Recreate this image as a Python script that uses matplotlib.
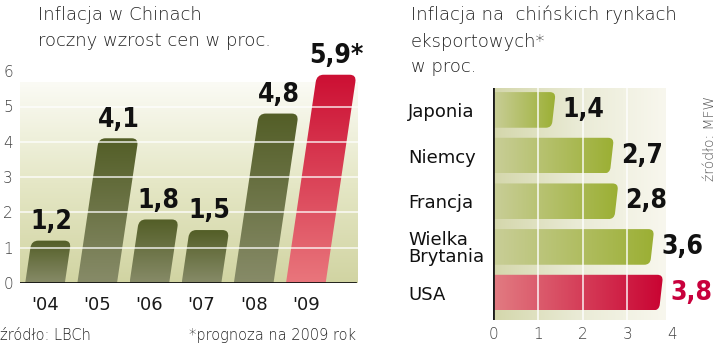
import numpy as np
import matplotlib
matplotlib.use('Agg')
import matplotlib.pyplot as plt
from matplotlib.path import Path
from matplotlib.patches import PathPatch
from matplotlib.colors import LinearSegmentedColormap

# ---------------- data ----------------
years = ["'04", "'05", "'06", "'07", "'08", "'09"]
cn_values = [1.2, 4.1, 1.8, 1.5, 4.8, 5.9]
cn_labels = ["1,2", "4,1", "1,8", "1,5", "4,8", "5,9*"]
cn_forecast = [False, False, False, False, False, True]
cn_yticks = [0, 1, 2, 3, 4, 5, 6]

countries = ["Japonia", "Niemcy", "Francja", "Wielka\nBrytania", "USA"]
ex_values = [1.4, 2.7, 2.8, 3.6, 3.8]
ex_labels = ["1,4", "2,7", "2,8", "3,6", "3,8"]
ex_highlight = [False, False, False, False, True]
ex_xticks = [0, 1, 2, 3, 4]

# ---------------- style ----------------
W, H = 720, 345
LIGHT = ['DejaVu Sans']
BOLDC = ['DejaVu Sans']

fig = plt.figure(figsize=(7.2, 3.45), dpi=100)
fig.patch.set_facecolor('white')


def fx(px):
    return px / W


def fy(py):
    return 1 - py / H


def gradient(ax, patch, extent, colors, vertical, z):
    cmap = LinearSegmentedColormap.from_list('g', colors)
    if vertical:
        arr = np.linspace(0, 1, 256).reshape(-1, 1)
    else:
        arr = np.linspace(0, 1, 256).reshape(1, -1)
    im = ax.imshow(arr, cmap=cmap, extent=extent, origin='upper',
                   aspect='auto', zorder=z, interpolation='bilinear')
    if patch is not None:
        im.set_clip_path(patch)
    return im


lkw = dict(fontsize=19, fontweight='heavy', family=BOLDC, fontstretch='condensed')

# ================= left chart =================
ax1 = fig.add_axes([fx(20), fy(283), fx(338), 6.6 * 35.3 / H])
xl1 = (-0.48, 6.0)
yl1 = (0, 6.6)

gradient(ax1, None, (xl1[0], xl1[1], 0, 5.67),
         ['#fbfbf5', '#e5e7c6', '#d1d4a2'], True, 0)

w = 0.38
s = 0.10
rx, ry = 0.13, 0.2
for i, (v, lab, fc) in enumerate(zip(cn_values, cn_labels, cn_forecast)):
    verts = [(i - w, 0), (i + w, 0),
             (i + w + s * (v - ry), v - ry), (i + w + s * v, v), (i + w + s * v - rx, v),
             (i - w + s * v + rx, v), (i - w + s * v, v), (i - w + s * (v - ry), v - ry),
             (i - w, 0)]
    codes = [Path.MOVETO, Path.LINETO, Path.LINETO, Path.CURVE3, Path.CURVE3,
             Path.LINETO, Path.CURVE3, Path.CURVE3, Path.CLOSEPOLY]
    patch = PathPatch(Path(verts, codes), facecolor='none', edgecolor='none')
    ax1.add_patch(patch)
    cols = ['#cc0f33', '#e9767c'] if fc else ['#535e27', '#878b68']
    gradient(ax1, patch, (i - w, i + w + s * v, 0, v), cols, True, 2)
    ax1.annotate(lab, (i + s * v, v), xytext=(0, 4), textcoords='offset points',
                 ha='center', va='bottom', color='#111111', zorder=5, **lkw)

for y in cn_yticks[1:-1]:
    ax1.axhline(y, color='white', lw=1.2, alpha=0.8, zorder=3)
ax1.axhline(0, xmin=0, xmax=0.99, color='#111111', lw=2, zorder=4)

ax1.set_xlim(*xl1)
ax1.set_ylim(*yl1)
ax1.set_xticks(range(len(years)))
ax1.set_xticklabels(years, fontsize=13, color='#1a1a1a', family=LIGHT)
ax1.set_yticks(cn_yticks)
ax1.set_yticklabels([str(t) for t in cn_yticks], fontsize=11, color='#444444',
                    family=LIGHT, fontweight='light')
ax1.tick_params(axis='x', length=0, pad=9)
ax1.tick_params(axis='y', length=0, pad=5)
for sp in ax1.spines.values():
    sp.set_visible(False)
ax1.set_facecolor('none')

# ================= right chart =================
ax2 = fig.add_axes([fx(493), fy(320), fx(197), 232 / H])
xl2 = (0, 4.4)
yl2 = (4.6, -0.48)

gradient(ax2, None, (0, 3.85, yl2[0], yl2[1]),
         ['#d4d7ab', '#eaebd6', '#f8f7ee'], False, 0)

h = 0.39
d = 0.09
rx2, ry2 = 0.13, 0.13
for j, (v, lab, hl) in enumerate(zip(ex_values, ex_labels, ex_highlight)):
    top, bot = j - h, j + h
    k = d * ry2 / (2 * h)
    verts = [(0, top), (v - rx2, top), (v, top), (v - k, top + ry2),
             (v - d + k, bot - ry2), (v - d, bot), (v - d - rx2, bot),
             (0, bot), (0, top)]
    codes = [Path.MOVETO, Path.LINETO, Path.CURVE3, Path.CURVE3,
             Path.LINETO, Path.CURVE3, Path.CURVE3, Path.LINETO, Path.CLOSEPOLY]
    patch = PathPatch(Path(verts, codes), facecolor='none', edgecolor='none')
    ax2.add_patch(patch)
    cols = ['#e27c82', '#c90332'] if hl else ['#c9ce98', '#9baf33']
    gradient(ax2, patch, (0, v, bot, top), cols, False, 2)
    ax2.annotate(lab, (v, j), xytext=(5, 0), textcoords='offset points',
                 ha='left', va='center', zorder=5,
                 color='#c8003c' if hl else '#111111', **lkw)

for x in ex_xticks[1:-1]:
    ax2.axvline(x, color='white', lw=1.2, alpha=0.85, zorder=3)
ax2.axvline(0, color='#1a1a1a', lw=2, zorder=4)

ax2.set_xlim(*xl2)
ax2.set_ylim(*yl2)
ax2.set_xticks(ex_xticks)
ax2.set_xticklabels([str(t) for t in ex_xticks], fontsize=11, color='#444444',
                    family=LIGHT, fontweight='light')
ax2.set_yticks(range(len(countries)))
ax2.set_yticklabels(countries, fontsize=13, color='#111111', family=LIGHT,
                    linespacing=0.95)
for t in ax2.get_yticklabels():
    t.set_horizontalalignment('left')
ax2.tick_params(axis='y', length=0, pad=(493 - 408) * 0.72)
ax2.tick_params(axis='x', length=0, pad=5)
for sp in ax2.spines.values():
    sp.set_visible(False)
ax2.set_facecolor('none')

# ================= texts =================
tkw = dict(fontsize=13, color='#222222', family=LIGHT, fontweight='light', va='baseline')
fig.text(fx(38), fy(20), 'Inflacja w Chinach', **tkw)
fig.text(fx(38), fy(46), 'roczny wzrost cen w proc.', **tkw)
fig.text(fx(411), fy(20), 'Inflacja na  chińskich rynkach', **tkw)
fig.text(fx(411), fy(47), 'eksportowych*', **tkw)
fig.text(fx(411), fy(72), 'w proc.', **tkw)

fkw = dict(fontsize=10.5, color='#222222', family=LIGHT, fontweight='light', va='baseline')
fig.text(fx(0), fy(340), 'źródło: LBCh', ha='left', **fkw)
fig.text(fx(356), fy(340), '*prognoza na 2009 rok', ha='right', **fkw)
fig.text(fx(710), fy(138), 'źródło: MFW', rotation=90, ha='center', va='center',
         fontsize=10, color='#555555', family=LIGHT, fontweight='light')

fig.savefig('out.png', dpi=100, facecolor='white')
